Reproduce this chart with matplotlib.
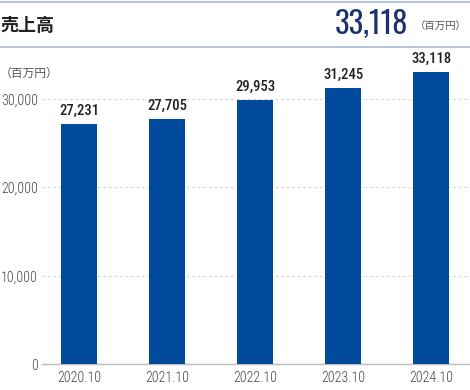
import matplotlib
matplotlib.use("Agg")
import matplotlib.pyplot as plt
from matplotlib.lines import Line2D
import numpy as np

plt.rcParams['font.family'] = ['Roboto Condensed', 'Noto Sans CJK JP', 'DejaVu Sans']

years = ['2020.10', '2021.10', '2022.10', '2023.10', '2024.10']
sales = [27231, 27705, 29953, 31245, 33118]
yticks = [0, 10000, 20000, 30000]
latest = '33,118'

bar_color = '#004a9c'
navy = '#1b3170'
text_gray = '#444444'
line_color = '#b9c4da'
jp = ['Noto Sans CJK JP', 'DejaVu Sans']

fig = plt.figure(figsize=(4.7, 3.9), dpi=100)
W, H = 470, 390

# header
fig.add_artist(Line2D([0, 1], [1 - 1.5 / H, 1 - 1.5 / H], color=line_color, lw=1.5))
fig.add_artist(Line2D([0, 1], [1 - 47 / H, 1 - 47 / H], color=line_color, lw=1.5))
fig.text(0, 1 - 25 / H, '売上高', fontsize=13, fontweight='bold', color='#222222',
         family=jp, va='center', ha='left')
fig.text(408 / W, 1 - 24 / H, latest, fontsize=22, color=navy, va='center', ha='right',
         family=['Oswald', 'Roboto Condensed'])
fig.text(1 - 3 / W, 1 - 27 / H, '（百万円）', fontsize=7.5, color='#555555',
         family=jp, va='center', ha='right')
fig.text(0, 1 - 73 / H, '（百万円）', fontsize=8.5, color='#555555',
         family=jp, va='center', ha='left')

# axes: baseline at y=364, 30000 at y=99
ax = fig.add_axes([42 / W, 1 - 364 / H, (470 - 42) / W, (364 - 55) / H])
x = np.arange(len(years))
ax.bar(x, sales, width=0.41, color=bar_color, zorder=3)
for xi, v in zip(x, sales):
    ax.text(xi, v + 700, f'{v:,}', ha='center', va='bottom', fontsize=10.5,
            fontweight='medium', color='#222222')

ax.set_ylim(0, 35000)
ax.set_xlim(-0.42, 4.44)
ax.set_yticks(yticks)
ax.set_yticklabels([f'{t:,}' for t in yticks], fontweight='light')
ax.set_xticks(x)
ax.set_xticklabels(years, fontweight='light')
ax.tick_params(axis='both', length=0, labelsize=10, colors=text_gray)
ax.tick_params(axis='y', pad=3)
ax.tick_params(axis='x', pad=5)

ax.yaxis.grid(True, linestyle=(0, (2, 3)), color='#cccccc', lw=0.8, zorder=0)
for s in ['top', 'right', 'left']:
    ax.spines[s].set_visible(False)
ax.spines['bottom'].set_color('#bbbbbb')
ax.spines['bottom'].set_linewidth(1)

fig.savefig('out.png', dpi=100)
